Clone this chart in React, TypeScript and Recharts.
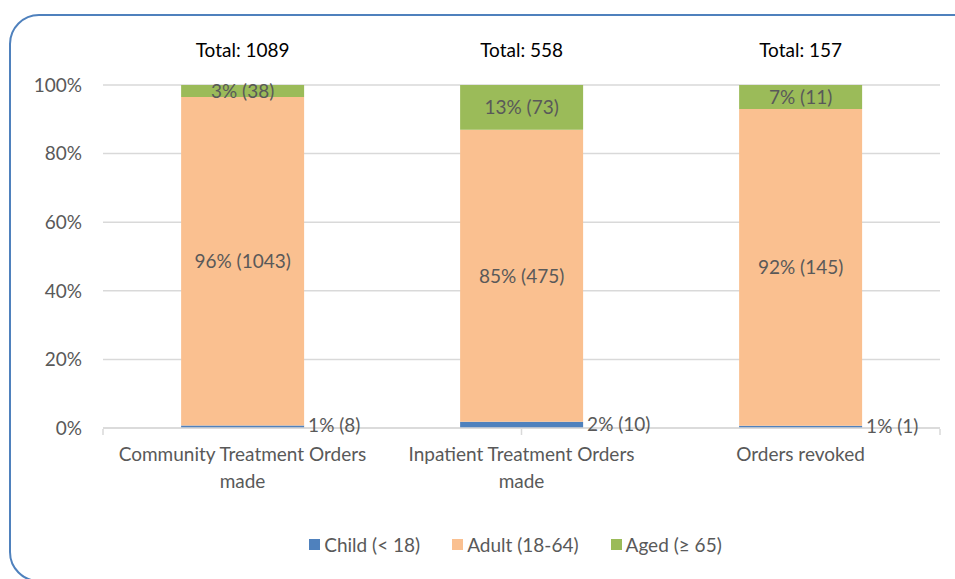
import React from 'react';
import { BarChart, Bar, XAxis, YAxis, CartesianGrid, Legend, LabelList } from 'recharts';

const categories = ['Community Treatment Orders\nmade', 'Inpatient Treatment Orders\nmade', 'Orders revoked'];
const childCounts = [8, 10, 1];
const adultCounts = [1043, 475, 145];
const agedCounts = [38, 73, 11];
const yTicks = [0, 0.2, 0.4, 0.6, 0.8, 1];
const edgeTicks = [0, 1, 2, 3];

const seriesNames = ['Child (< 18)', 'Adult (18-64)', 'Aged (\u2265 65)'];
const COLORS = ['#4f81bd', '#fac090', '#9bbb59'];

const FONT = 'Lato, "Open Sans", sans-serif';
const GREY = '#595959';

const totals = categories.map((_, i) => childCounts[i] + adultCounts[i] + agedCounts[i]);

const data = categories.map((name, i) => ({
  name,
  child: childCounts[i],
  adult: adultCounts[i],
  aged: agedCounts[i],
}));

const pct = (v: number, i: number) => `${Math.round((v / totals[i]) * 100)}% (${v})`;

// main axis is 1px tall, labels are drawn below it
const CategoryTick = (props: any) => {
  const { x, y, payload } = props;
  const lines = String(payload.value).split('\n');
  return (
    <text x={x} y={y + 25} textAnchor="middle" fill={GREY} fontSize={19} fontFamily={FONT}>
      {lines.map((l, k) => (
        <tspan key={k} x={x} dy={k === 0 ? 0 : 27}>{l}</tspan>
      ))}
    </text>
  );
};

const CenterLabel = (series: number[]) => (props: any) => {
  const { x, y, width, height, index } = props;
  return (
    <text x={x + width / 2} y={y + height / 2} dy="0.35em" textAnchor="middle" fill={GREY} fontSize={19} fontFamily={FONT}>
      {pct(series[index], index)}
    </text>
  );
};

const SideLabel = (props: any) => {
  const { x, y, width, height, index } = props;
  return (
    <text x={x + width + 4} y={y + height / 2} dy="0.3em" textAnchor="start" fill={GREY} fontSize={19} fontFamily={FONT}>
      {pct(childCounts[index], index)}
    </text>
  );
};

const TotalLabel = (props: any) => {
  const { x, y, width, index } = props;
  return (
    <text x={x + width / 2} y={y - 28} textAnchor="middle" fill="#000" fontSize={19} fontFamily={FONT}>
      {`Total: ${totals[index]}`}
    </text>
  );
};

const LegendContent = () => (
  <div style={{ display: 'flex', justifyContent: 'center', fontFamily: FONT, fontSize: 19, color: GREY }}>
    {seriesNames.map((n, i) => (
      <div key={n} style={{ display: 'flex', alignItems: 'center', marginRight: i < 2 ? 32 : 0 }}>
        <span style={{ width: 11, height: 11, background: COLORS[i], marginRight: 4, display: 'inline-block' }} />
        <span>{n}</span>
      </div>
    ))}
  </div>
);

export default function App() {
  return (
    <div style={{ position: 'absolute', left: 0, top: 0, width: 955, height: 579, overflow: 'hidden', background: '#fff' }}>
      <div
        style={{
          position: 'absolute',
          left: 9,
          top: 14,
          width: 980,
          height: 568,
          border: '2px solid #4f81bd',
          borderRadius: 30,
          boxSizing: 'border-box',
        }}
      />
      <div style={{ position: 'absolute', left: 0, top: 0 }}>
        <BarChart
          width={955}
          height={579}
          data={data}
          stackOffset="expand"
          barCategoryGap="28%"
          margin={{ top: 85, right: 15, bottom: 120, left: 0 }}
        >
          <CartesianGrid vertical={false} stroke="#d9d9d9" strokeWidth={1.5} />
          <XAxis
            dataKey="name"
            axisLine={{ stroke: '#d9d9d9', strokeWidth: 1.5 }}
            tickLine={false}
            tick={<CategoryTick />}
            interval={0}
            height={1}
          />
          <XAxis
            xAxisId="edges"
            type="number"
            domain={[0, 3]}
            ticks={edgeTicks}
            interval={0}
            axisLine={false}
            tick={() => <g />}
            tickLine={{ stroke: '#d9d9d9', strokeWidth: 1.5 }}
            height={30}
          />
          <YAxis
            domain={[0, 1]}
            ticks={yTicks}
            tickFormatter={(v: number) => `${Math.round(v * 100)}%`}
            axisLine={false}
            tickLine={false}
            tickMargin={15}
            width={103}
            tick={{ fill: GREY, fontSize: 19, fontFamily: FONT }}
          />
          <Legend
            layout="horizontal"
            verticalAlign="middle"
            content={<LegendContent />}
            wrapperStyle={{ top: 533, left: 98, width: 835 }}
          />
          <Bar dataKey="child" name={seriesNames[0]} stackId="a" fill={COLORS[0]} isAnimationActive={false}>
            <LabelList dataKey="child" content={SideLabel} />
          </Bar>
          <Bar dataKey="adult" name={seriesNames[1]} stackId="a" fill={COLORS[1]} isAnimationActive={false}>
            <LabelList dataKey="adult" content={CenterLabel(adultCounts)} />
          </Bar>
          <Bar dataKey="aged" name={seriesNames[2]} stackId="a" fill={COLORS[2]} isAnimationActive={false}>
            <LabelList dataKey="aged" content={CenterLabel(agedCounts)} />
            <LabelList dataKey="aged" content={TotalLabel} />
          </Bar>
        </BarChart>
      </div>
    </div>
  );
}
